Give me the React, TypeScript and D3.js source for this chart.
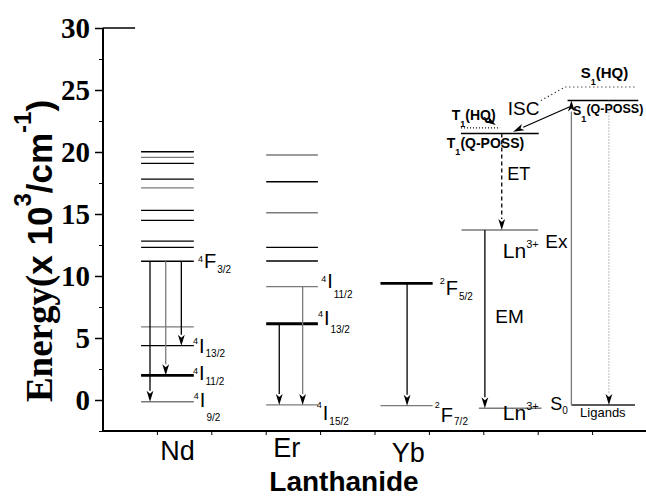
import React, { useRef, useEffect } from "react";
import * as d3 from "d3";

const width = 646;
const height = 497;

// x axis runs 0..10 (no numbers shown), categories sit on it
const categories = ["Nd", "Er", "Yb"];
const categoryX = [1.37, 3.38, 5.61];

// energy levels, x 10^3 cm^-1
const ndLevels = [20.02, 19.57, 19.09, 17.82, 17.1, 15.3, 14.49, 12.82, 12.31, 11.19, 5.89, 4.38, 1.99, -0.14];
const erLevels = [19.76, 17.6, 15.1, 12.31, 11.21, 9.14, 6.15, -0.4];
const ybLevels = [9.41, -0.46];
const ndSpan = [0.7, 1.67];
const erSpan = [3.0, 3.95];
const ybSpan = [5.1, 6.06];

// emission arrows: [x, from, to]
const ndArrows = [[0.864, 11.19, -0.14], [1.153, 11.19, 1.99], [1.44, 11.19, 4.38]];
const erArrows = [[3.24, 6.15, -0.4], [3.67, 9.14, -0.4]];
const ybArrows = [[5.59, 9.41, -0.46]];

// ligand / lanthanide scheme
const t1HQ = 21.94;
const t1QPOSS = 21.49;
const s1QPOSS = 24.15;
const s1HQ = 25.24;
const lnUpper = 13.71;
const lnLower = -0.67;
const s0 = -0.4;

const yTicks = [0, 5, 10, 15, 20, 25, 30];

const X = d3.scaleLinear().domain([0, 10]).range([103, 647]);
const Y = d3.scaleLinear().domain([-2.5, 30]).range([431, 28]);

const BLACK = "#000";
const GRAY = "#7a7a7a";
const sans = "'Liberation Sans', Arial, sans-serif";
const serif = "'Liberation Serif', 'Times New Roman', serif";

const Arrow = ({ x1, y1, x2, y2, stroke = BLACK, dash = "", sw = 1.3 }: any) => {
  const a = Math.atan2(y2 - y1, x2 - x1);
  const L = 11;
  const w = 3.4;
  const bx = x2 - L * Math.cos(a);
  const by = y2 - L * Math.sin(a);
  const pts = [
    [x2, y2],
    [bx + w * Math.sin(a), by - w * Math.cos(a)],
    [x2 - (L - 3) * Math.cos(a), y2 - (L - 3) * Math.sin(a)],
    [bx - w * Math.sin(a), by + w * Math.cos(a)],
  ];
  return (
    <g>
      <line x1={x1} y1={y1} x2={bx} y2={by} stroke={stroke} strokeWidth={sw} strokeDasharray={dash} />
      <polygon points={pts.map((p) => p.join(",")).join(" ")} fill={BLACK} />
    </g>
  );
};

// term symbol like 4I13/2
const Term = ({ x, e, sup, main, sub, supDy, subDy, size = 20 }: any) => {
  const bx = X(x);
  const by = Y(e);
  return (
    <text x={bx} y={by} fontFamily={sans} fill="#000">
      <tspan y={by + supDy} fontSize={9}>{sup}</tspan>
      <tspan y={by} fontSize={size} dx={1}>{main}</tspan>
      <tspan y={by + subDy} fontSize={10} dx={1}>{sub}</tspan>
    </text>
  );
};

const YAxis = () => {
  const ref = useRef(null);
  useEffect(() => {
    const g = d3.select(ref.current);
    g.selectAll("*").remove();
    const major = d3.axisLeft(Y).tickValues(yTicks).tickSize(8).tickPadding(5).tickFormat((d: any) => d);
    const minor = d3.axisLeft(Y).tickValues(d3.range(-2.5, 30, 5)).tickSize(4).tickFormat(() => "");
    g.append("g").call(minor).call((s) => s.select(".domain").remove());
    const m = g.append("g").call(major);
    m.select(".domain").attr("stroke-width", 2);
    m.selectAll(".tick line").attr("stroke-width", 1.5);
    m.selectAll(".tick text")
      .attr("font-family", serif)
      .attr("font-weight", "bold")
      .attr("font-size", 29)
      .attr("fill", "#000");
    g.selectAll("path.domain").attr("d", `M-0,${Y(30)}V${Y(-2.5)}`);
  }, []);
  return <g ref={ref} transform={`translate(${X(0)},0)`} />;
};

const App = () => {
  const levelLines = (levels: number[], span: number[], grays: number[], thick: number[]) =>
    levels.map((e, i) => (
      <line
        key={i}
        x1={X(span[0])}
        x2={X(span[1])}
        y1={Y(e)}
        y2={Y(e)}
        stroke={grays.includes(i) ? GRAY : BLACK}
        strokeWidth={thick.includes(i) ? 2.8 : 1.3}
      />
    ));

  const down = (arr: number[][], grays: number[] = []) =>
    arr.map(([x, from, to], i) => (
      <Arrow key={i} x1={X(x)} y1={Y(from)} x2={X(x)} y2={Y(to)} stroke={grays.includes(i) ? GRAY : BLACK} />
    ));

  return (
    <svg width={width} height={height} style={{ position: "absolute", left: 0, top: 0, background: "#fff" }}>
      {/* axes */}
      <YAxis />
      <line x1={X(0)} x2={X(0.59)} y1={Y(30)} y2={Y(30)} stroke="#000" strokeWidth={1.5} />
      <line x1={X(0) - 1} x2={X(10)} y1={Y(-2.5)} y2={Y(-2.5)} stroke="#000" strokeWidth={2} />
      {d3.range(1, 10).map((t) => (
        <line key={t} x1={X(t)} x2={X(t)} y1={Y(-2.5)} y2={Y(-2.5) + 4} stroke="#000" strokeWidth={1} />
      ))}
      {categories.map((c, i) => (
        <text key={c} x={X(categoryX[i])} y={[460, 457, 462][i]} textAnchor="middle" fontFamily={sans} fontSize={27}>
          {c}
        </text>
      ))}
      <text x={344} y={491} textAnchor="middle" fontFamily={sans} fontWeight="bold" fontSize={28}>
        Lanthanide
      </text>
      <text transform="translate(52,251) rotate(-90)" textAnchor="middle" fontWeight="bold" fill="#000">
        <tspan fontFamily={serif} fontSize={37}>Energy(</tspan>
        <tspan fontFamily={sans} fontSize={35}>x 10</tspan>
        <tspan fontFamily={sans} fontSize={24} dy={-21}>3</tspan>
        <tspan fontFamily={sans} fontSize={35} dy={21}>/cm</tspan>
        <tspan fontFamily={sans} fontSize={24} dy={-21}>-1</tspan>
        <tspan fontFamily={sans} fontSize={35} dy={21}>)</tspan>
      </text>

      {/* Nd */}
      {levelLines(ndLevels, ndSpan, [1, 4, 10, 13], [12])}
      {down(ndArrows, [1])}
      <Term x={1.746} e={10.65} sup="4" main="F" sub="3/2" supDy={-6} subDy={5} />
      <Term x={1.654} e={3.79} sup="4" main="I" sub="13/2" supDy={-9} subDy={4} />
      <Term x={1.654} e={1.61} sup="4" main="I" sub="11/2" supDy={-6} subDy={5} />
      <Term x={1.67} e={-0.56} sup="4" main="I" sub="9/2" supDy={-8} subDy={14} />

      {/* Er */}
      {levelLines(erLevels, erSpan, [0, 2, 5, 7], [6])}
      {down(erArrows, [1])}
      <Term x={4.01} e={9.03} sup="4" main="I" sub="11/2" supDy={-6} subDy={10} />
      <Term x={3.95} e={6.05} sup="4" main="I" sub="13/2" supDy={-8} subDy={8} />
      <Term x={3.93} e={-1.61} sup="4" main="I" sub="15/2" supDy={-12} subDy={5} />

      {/* Yb */}
      {levelLines(ybLevels, ybSpan, [1], [0])}
      {down(ybArrows)}
      <Term x={6.19} e={8.47} sup="2" main="F" sub="5/2" supDy={-11} subDy={5} />
      <Term x={6.1} e={-1.77} sup="2" main="F" sub="7/2" supDy={-14} subDy={3} />

      {/* ligand levels */}
      <line x1={X(6.58)} x2={X(7.3)} y1={Y(t1HQ)} y2={Y(t1HQ)} stroke="#000" strokeWidth={1.2} strokeDasharray="1,2" />
      <line x1={X(6.58)} x2={X(8.01)} y1={Y(t1QPOSS)} y2={Y(t1QPOSS)} stroke="#000" strokeWidth={1.4} />
      <line x1={X(8.54)} x2={X(9.84)} y1={Y(s1QPOSS)} y2={Y(s1QPOSS)} stroke="#000" strokeWidth={1.4} />
      <polyline
        points={[[8.05, s1QPOSS], [8.49, s1HQ], [9.78, s1HQ]].map(([x, e]) => `${X(x)},${Y(e)}`).join(" ")}
        fill="none"
        stroke="#000"
        strokeWidth={1.2}
        strokeDasharray="1,3"
      />
      <line x1={X(6.59)} x2={X(8.0)} y1={Y(lnUpper)} y2={Y(lnUpper)} stroke={GRAY} strokeWidth={1.4} />
      <line x1={X(6.91)} x2={X(8.06)} y1={Y(lnLower)} y2={Y(lnLower)} stroke={GRAY} strokeWidth={1.4} />
      <line x1={X(8.61)} x2={X(9.78)} y1={Y(s0)} y2={Y(s0)} stroke="#222" strokeWidth={1.4} />

      <Arrow x1={X(7.02)} y1={Y(lnUpper)} x2={X(7.02)} y2={Y(lnLower)} />
      <Arrow x1={X(7.33)} y1={Y(t1QPOSS)} x2={X(7.33)} y2={Y(lnUpper)} dash="4,3" />
      <Arrow x1={X(8.61)} y1={Y(s0)} x2={X(8.61)} y2={Y(s1QPOSS)} stroke={GRAY} />
      <Arrow x1={X(9.3)} y1={Y(s1QPOSS)} x2={X(9.3)} y2={Y(s0)} stroke={GRAY} dash="1,2" sw={1} />
      <Arrow x1={X(8.58)} y1={Y(23.65)} x2={X(7.54)} y2={Y(21.64)} />
      <Arrow x1={X(7.0)} y1={Y(22.8)} x2={X(7.22)} y2={Y(22.18)} />

      {/* scheme labels */}
      <text x={X(8.78)} y={Y(25.97)} fontFamily={sans} fontWeight="bold" fontSize={15}>
        <tspan>S</tspan>
        <tspan y={Y(25.97) + 7} fontSize={9}>1</tspan>
        <tspan y={Y(25.97)}>(HQ)</tspan>
      </text>
      <text x={X(8.64)} y={Y(22.98)} fontFamily={sans} fontWeight="bold" fontSize={12.5}>
        <tspan>S</tspan>
        <tspan y={Y(22.98) + 7} fontSize={9}>1</tspan>
        <tspan y={Y(22.98) - 2}>(Q-POSS)</tspan>
      </text>
      <text x={X(6.41)} y={Y(22.58)} fontFamily={sans} fontWeight="bold" fontSize={14}>
        <tspan>T</tspan>
        <tspan y={Y(22.58) + 7} fontSize={9}>1</tspan>
        <tspan y={Y(22.58)}>(HQ)</tspan>
      </text>
      <text x={X(6.32)} y={Y(20.32)} fontFamily={sans} fontWeight="bold" fontSize={14}>
        <tspan>T</tspan>
        <tspan y={Y(20.32) + 7} fontSize={9}>1</tspan>
        <tspan y={Y(20.32)}>(Q-POSS)</tspan>
      </text>
      <text x={X(7.44)} y={Y(22.98)} fontFamily={sans} fontSize={19}>ISC</text>
      <text x={X(7.43)} y={Y(17.74)} fontFamily={sans} fontSize={18}>ET</text>
      <text x={X(7.35)} y={Y(11.45)} fontFamily={sans} fontSize={21}>
        <tspan>Ln</tspan>
        <tspan y={Y(11.45) - 10} fontSize={11}>3+</tspan>
      </text>
      <text x={X(8.13)} y={Y(12.26)} fontFamily={sans} fontSize={19}>Ex</text>
      <text x={X(7.21)} y={Y(6.21)} fontFamily={sans} fontSize={19}>EM</text>
      <text x={X(8.22)} y={Y(-0.81)} fontFamily={sans} fontSize={18}>
        <tspan>S</tspan>
        <tspan y={Y(-0.81) + 4} fontSize={10}>0</tspan>
      </text>
      <text x={X(8.77)} y={Y(-1.37)} fontFamily={sans} fontSize={13}>Ligands</text>
      <text x={X(7.35)} y={Y(-1.61)} fontFamily={sans} fontSize={21}>
        <tspan>Ln</tspan>
        <tspan y={Y(-1.61) - 10} fontSize={11}>3+</tspan>
      </text>
    </svg>
  );
};

export default App;
